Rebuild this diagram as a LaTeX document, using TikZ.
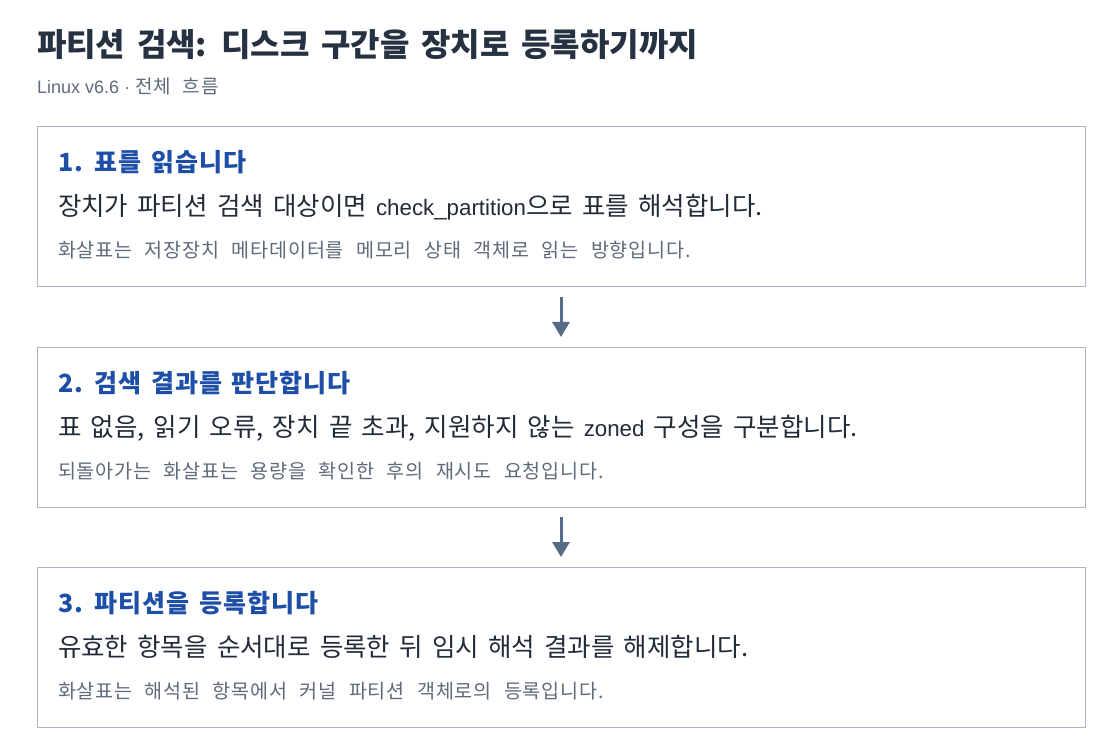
\documentclass[tikz,border=0pt]{standalone}
\usepackage{fontspec}
\setmainfont{Noto Sans CJK KR}[WordSpace=1.6]
\newfontfamily\headfont{Noto Sans CJK KR}[LetterSpace=4]
\newfontfamily\notefont{Noto Sans CJK KR}[WordSpace=2.4, LetterSpace=4]
\newfontfamily\lat{Liberation Sans}
\newcommand\myheadfmt{\headfont\fontsize{25}{29}\selectfont\bfseries\spaceskip=9.5pt\relax}
\usetikzlibrary{arrows.meta}
\definecolor{titlec}{HTML}{263241}
\definecolor{headc}{HTML}{1E4FA8}
\definecolor{bodyc}{HTML}{222B38}
\definecolor{notec}{HTML}{5F6B7A}
\definecolor{borderc}{HTML}{AAB4C2}
\definecolor{arrowc}{HTML}{566B85}
\tikzset{
  card/.style={draw=borderc, line width=1pt, fill=white, anchor=north west, inner sep=0pt, minimum width=1048pt, minimum height=160pt},
  txt/.style={anchor=base west, inner sep=0pt, outer sep=0pt},
  titletxt/.style={txt, text=titlec, font=\fontsize{32}{36}\selectfont\bfseries},
  subtxt/.style={txt, text=notec, font=\notefont\fontsize{19}{22}\selectfont},
  headtxt/.style={txt, text=headc, font=\myheadfmt},
  bodytxt/.style={txt, text=bodyc, font=\fontsize{25.5}{29}\selectfont},
  notetxt/.style={txt, text=notec, font=\notefont\fontsize{19.6}{23}\selectfont},
  flow/.style={draw=arrowc, line width=3pt, -{Triangle[width=17pt,length=15pt]}}
}
\begin{document}
\begin{tikzpicture}[x=1pt,y=-1pt]
\useasboundingbox[fill=white] (0,0) rectangle (1120,754);
\node[titletxt] (title) at (37,57) {파티션 검색: 디스크 구간을 장치로 등록하기까지};
\node[subtxt] (sub) at (37,94) {{\lat\fontsize{18}{22}\selectfont Linux v6.6 · }전체 흐름};
\node[card] (b1) at (36.5,126.5) {};
\node[card] (b2) at (36.5,346.5) {};
\node[card] (b3) at (36.5,566.5) {};
\node[headtxt] (h1) at (58,172) {1. 표를 읽습니다};
\node[bodytxt] (t1) at (58,216) {장치가 파티션 검색 대상이면 {\lat\fontsize{22.3}{26}\selectfont check\_partition}으로 표를 해석합니다.};
\node[notetxt] (n1) at (58,258) {화살표는 저장장치 메타데이터를 메모리 상태 객체로 읽는 방향입니다.};
\node[headtxt] (h2) at (58,392) {2. 검색 결과를 판단합니다};
\node[bodytxt] (t2) at (58,436) {표 없음, 읽기 오류, 장치 끝 초과, 지원하지 않는 {\lat\fontsize{22.3}{26}\selectfont zoned} 구성을 구분합니다.};
\node[notetxt] (n2) at (58,478) {되돌아가는 화살표는 용량을 확인한 후의 재시도 요청입니다.};
\node[headtxt] (h3) at (58,612) {3. 파티션을 등록합니다};
\node[bodytxt] (t3) at (58,656) {유효한 항목을 순서대로 등록한 뒤 임시 해석 결과를 해제합니다.};
\node[notetxt] (n3) at (58,698) {화살표는 해석된 항목에서 커널 파티션 객체로의 등록입니다.};
\draw[flow] ([yshift=-9.5pt]b1.south) -- ([yshift=9.5pt]b2.north);
\draw[flow] ([yshift=-9.5pt]b2.south) -- ([yshift=9.5pt]b3.north);
\end{tikzpicture}
\end{document}
